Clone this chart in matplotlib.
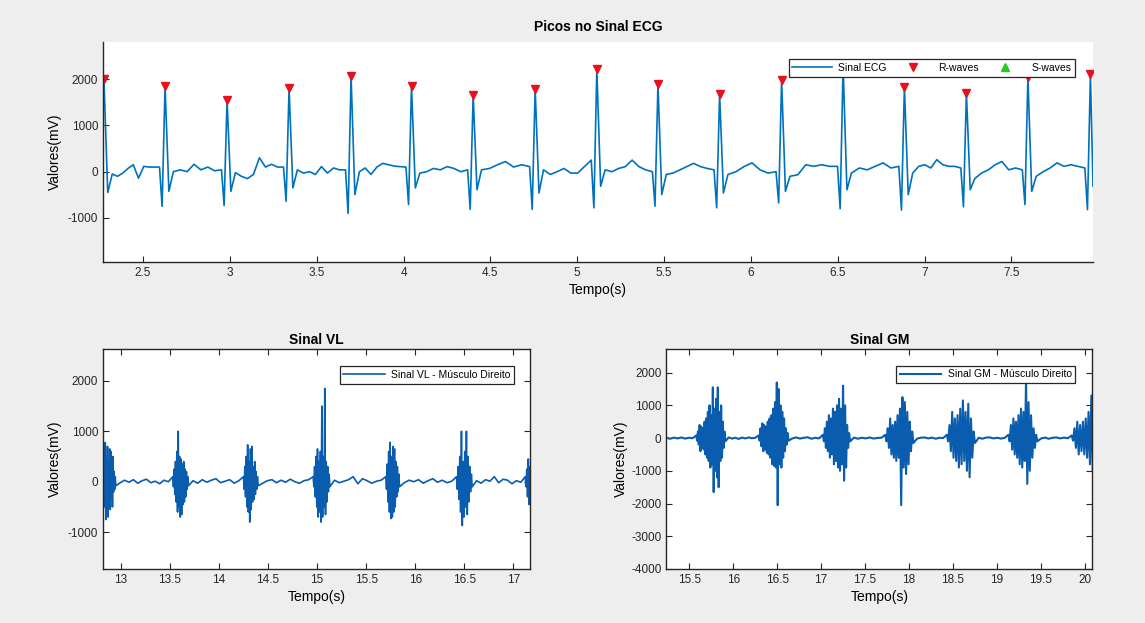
import numpy as np
import matplotlib
matplotlib.use('Agg')
import matplotlib.pyplot as plt
from matplotlib.ticker import FuncFormatter

plt.rcParams['font.family'] = ['Liberation Sans', 'DejaVu Sans']

# ---------------- ECG data ----------------
r_times = [2.275, 2.627, 2.984, 3.341, 3.698, 4.046, 4.401, 4.758, 5.113,
           5.465, 5.820, 6.177, 6.531, 6.884, 7.241, 7.595, 7.955]
r_vals = [2000, 1850, 1550, 1805, 2065, 1850, 1660, 1785, 2215,
          1890, 1680, 1980, 2300, 1830, 1700, 2045, 2110]
q_vals = [None, -750, -730, -640, -900, -710, -815, -815, -780,
          -745, -780, -675, -800, -830, -760, -710, -820]
s_vals = [-450, -425, -425, -350, -495, -350, -390, -460, -315,
          -495, -460, -425, -390, -495, -390, -425, -315]
ecg_baselines = [
    [-50, -100, -30, 70, 150, -140, 115, 100, 100, 100],
    [0, 40, 0, 160, 40, 100, 20, 40],
    [-20, -100, -150, -60, 300, 100, 160, 100, 100],
    [40, -30, 0, -60, 110, -30, 80, 40, 40],
    [0, 80, -60, 100, 180, 150, 120, 110, 100],
    [-30, 0, 70, 40, 110, 70, 0, 40],
    [40, 70, 150, 220, 100, 150, 110],
    [40, -60, 0, 70, -30, -30, 110, 250],
    [40, 0, 70, 110, 250, 110, 40, 0],
    [-60, -30, 40, 110, 180, 110, 70, 40],
    [-60, 0, 110, 190, 40, -30, 0],
    [-100, -65, 150, 115, 150, 115, 115],
    [-30, 80, 40, 115, 190, 80, 115],
    [-30, 115, 150, 80, 260, 150, 115, 115, 80],
    [-150, -30, 40, 150, 220, 40, 80, 40],
    [-100, 0, 80, 190, 115, 150, 115, 80],
]
ecg_end_val = -315
s_wave_times = []
s_wave_vals = []

# ---------------- VL data ----------------
vl_burst_span = [(12.82, 12.95), (13.53, 13.69), (14.25, 14.40), (14.96, 15.13),
                 (15.70, 15.84), (16.42, 16.58), (17.12, 17.175)]
vl_upper = [
    [300, 600, 780, 500, 700, 400, 650, 600, 300, 500, 200, 100],
    [100, 250, 400, 600, 1000, 500, 450, 350, 400, 250, 200, 100],
    [100, 300, 500, 730, 400, 650, 700, 300, 400, 200, 100],
    [100, 300, 500, 650, 400, 600, 1500, 500, 1850, 400, 300, 150],
    [100, 350, 600, 780, 500, 700, 650, 400, 300, 150],
    [100, 300, 500, 1000, 400, 600, 1000, 500, 300, 150],
    [100, 250, 450, 300],
]
vl_lower = [
    [-300, -500, -750, -600, -700, -400, -550, -300, -500, -200, -150, -80],
    [-100, -250, -400, -600, -500, -700, -650, -450, -400, -300, -150, -80],
    [-150, -300, -500, -600, -800, -550, -400, -350, -250, -150, -80],
    [-100, -300, -500, -700, -600, -800, -700, -500, -650, -400, -200, -100],
    [-150, -400, -600, -730, -700, -600, -500, -300, -200, -100],
    [-150, -350, -600, -870, -700, -500, -650, -400, -200, -100],
    [-100, -300, -450, -350],
]
vl_gaps = [
    [-20, 30, -10, 40, -30, 20, 50, -20, 10, -40, 30, 0],
    [20, -30, 40, -10, 30, 60, -20, 10, 40, -30, 20],
    [-30, 20, 40, -20, 30, -10, 50, 0, -30, 20, 40],
    [30, -20, 10, 40, 100, -40, 60, 20, -30, 10, 30],
    [-20, 30, 0, 40, -30, 20, 60, -10, 30, -20, 10],
    [20, -30, 40, 10, 100, -20, 50, 30, -40, 20, -10],
]

# ---------------- GM data ----------------
gm_start_gap = [10, -20, 15, -10, 20, -15, 10, -5]
gm_start_t = 15.24
gm_burst_span = [(15.58, 15.91), (16.29, 16.63), (17.02, 17.33), (17.73, 18.05),
                 (18.43, 18.75), (19.13, 19.46), (19.85, 20.09)]
gm_upper = [
    [80, 200, 400, 350, 300, 500, 600, 800, 1000, 700, 1550, 900, 1200, 1550, 800, 1000, 500, 200],
    [80, 300, 450, 400, 350, 500, 600, 700, 900, 1100, 1700, 1500, 1000, 800, 600, 300, 150],
    [100, 300, 500, 700, 600, 900, 800, 1000, 1200, 900, 1600, 1000, 400, 150],
    [100, 300, 600, 400, 500, 700, 900, 1250, 1100, 800, 500, 200],
    [100, 400, 800, 600, 700, 900, 1150, 800, 1050, 600, 200],
    [100, 400, 600, 500, 700, 900, 800, 1750, 1100, 700, 300, 100],
    [80, 300, 500, 400, 500, 600, 800, 1300],
]
gm_lower = [
    [-80, -200, -400, -300, -350, -500, -600, -700, -900, -800, -1650, -1000, -1200, -1500, -700, -600, -300, -100],
    [-80, -250, -400, -350, -450, -500, -600, -800, -850, -900, -2050, -800, -900, -600, -400, -200, -80],
    [-100, -300, -400, -600, -500, -800, -700, -900, -1000, -800, -1300, -900, -300, -100],
    [-100, -300, -500, -600, -700, -600, -2050, -900, -1100, -800, -400, -150],
    [-100, -400, -600, -700, -900, -800, -700, -1000, -1200, -600, -150],
    [-100, -350, -500, -600, -800, -900, -700, -1400, -1000, -600, -300, -100],
    [-80, -300, -500, -400, -500, -600, -800, -1000],
]
gm_gaps = [
    [20, -15, 10, -25, 15, -10, 20, -5, 10],
    [-10, 20, -15, 10, 25, -20, 10, -10],
    [15, -20, 10, -10, 20, -15, 5, 10],
    [-15, 10, 20, -10, 15, -20, 10, 0],
    [10, -20, 15, 20, -10, 10, -15, 5],
    [-10, 15, -20, 10, 20, -10, 15, -5],
]

BLUE = '#0072BD'
EMG_BLUE = '#0a5cae'
BG = '#eeeeee'
DARK = '#262626'


def build_ecg():
    t, v = [], []
    n = len(r_times)
    for i in range(n):
        rt = r_times[i]
        if q_vals[i] is not None:
            t.append(rt - 0.017); v.append(q_vals[i])
        t.append(rt); v.append(r_vals[i])
        t.append(rt + 0.022); v.append(s_vals[i])
        if i < n - 1:
            base = ecg_baselines[i]
            tt = np.linspace(rt + 0.048, r_times[i + 1] - 0.032, len(base))
            t.extend(tt); v.extend(base)
    t[-1] = 7.97
    v[-1] = ecg_end_val
    return np.array(t), np.array(v)


def build_emg(spans, uppers, lowers, gaps, start=None):
    t, v = [], []
    if start is not None:
        g0, t0 = start
        tt = np.linspace(t0, spans[0][0], len(g0) + 1)[:-1]
        t.extend(tt); v.extend(g0)
    for k, (a, b) in enumerate(spans):
        up, lo = uppers[k], lowers[k]
        vals = []
        for u, l in zip(up, lo):
            vals.extend([u, l])
        tt = np.linspace(a, b, len(vals))
        t.extend(tt); v.extend(vals)
        if k < len(gaps):
            g = gaps[k]
            tt = np.linspace(b, spans[k + 1][0], len(g) + 2)[1:-1]
            t.extend(tt); v.extend(g)
    return np.array(t), np.array(v)


fmt = FuncFormatter(lambda x, p: f'{x:g}')

fig = plt.figure(figsize=(11.45, 6.23), dpi=100, facecolor=BG)

# ---------------- Top ECG axes ----------------
ax1 = fig.add_axes([0.090, 0.5795, 0.8646, 0.353])
et, ev = build_ecg()
ax1.plot(et, ev, color=BLUE, lw=1.2, label='Sinal ECG')
ax1.plot(r_times, r_vals, linestyle='none', marker='v', color='#e8101c',
         markersize=6, label='R-waves')
ax1.plot(s_wave_times, s_wave_vals, linestyle='none', marker='^', color='#22cc22',
         markersize=6, label='S-waves')
ax1.set_xlim(2.27, 7.97)
ax1.set_ylim(-1950, 2800)
ax1.set_xticks(np.arange(2.5, 7.51, 0.5))
ax1.set_yticks([-1000, 0, 1000, 2000])
ax1.spines['top'].set_visible(False)
ax1.spines['right'].set_visible(False)
ax1.set_title('Picos no Sinal ECG', fontsize=10, fontweight='bold', pad=8)
ax1.set_xlabel('Tempo(s)', fontsize=10, labelpad=3)
ax1.set_ylabel('Valores(mV)', fontsize=10, labelpad=4)
ax1.legend(loc='upper right', bbox_to_anchor=(0.987, 0.945), ncol=3,
           fontsize=7.5, frameon=True, fancybox=False, handlelength=3.8,
           columnspacing=0.6, borderpad=0.35, handletextpad=0.6)

# ---------------- VL axes ----------------
ax2 = fig.add_axes([0.090, 0.0867, 0.373, 0.353])
vt, vv = build_emg(vl_burst_span, vl_upper, vl_lower, vl_gaps)
ax2.plot(vt, vv, color=EMG_BLUE, lw=1.2, label='Sinal VL - Músculo Direito')
ax2.set_xlim(12.82, 17.17)
ax2.set_ylim(-1730, 2630)
ax2.set_xticks(np.arange(13, 17.01, 0.5))
ax2.set_yticks([-1000, 0, 1000, 2000])
ax2.set_title('Sinal VL', fontsize=10, fontweight='bold', pad=4)
ax2.set_xlabel('Tempo(s)', fontsize=10, labelpad=3)
ax2.set_ylabel('Valores(mV)', fontsize=10, labelpad=4)
ax2.legend(loc='upper right', bbox_to_anchor=(0.975, 0.945), fontsize=7.5,
           frameon=True, fancybox=False, handlelength=4, borderpad=0.35,
           handletextpad=0.6)

# ---------------- GM axes ----------------
ax3 = fig.add_axes([0.582, 0.0867, 0.372, 0.353])
gt, gv = build_emg(gm_burst_span, gm_upper, gm_lower, gm_gaps,
                   start=(gm_start_gap, gm_start_t))
ax3.plot(gt, gv, color=EMG_BLUE, lw=1.5, label='Sinal GM - Músculo Direito')
ax3.set_xlim(15.24, 20.085)
ax3.set_ylim(-4000, 2720)
ax3.set_xticks(np.arange(15.5, 20.01, 0.5))
ax3.set_yticks(np.arange(-4000, 2001, 1000))
ax3.set_title('Sinal GM', fontsize=10, fontweight='bold', pad=4)
ax3.set_xlabel('Tempo(s)', fontsize=10, labelpad=3)
ax3.set_ylabel('Valores(mV)', fontsize=10, labelpad=2)
ax3.legend(loc='upper right', bbox_to_anchor=(0.972, 0.948), fontsize=7.5,
           frameon=True, fancybox=False, handlelength=4, borderpad=0.35,
           handletextpad=0.6)

for ax in (ax1, ax2, ax3):
    ax.set_facecolor('white')
    ax.xaxis.set_major_formatter(fmt)
    ax.yaxis.set_major_formatter(fmt)
    for s in ax.spines.values():
        s.set_color(DARK)
        s.set_linewidth(1.0)
    leg = ax.get_legend()
    leg.get_frame().set_edgecolor(DARK)
    leg.get_frame().set_linewidth(0.9)
    leg.get_frame().set_alpha(1)

ax1.tick_params(direction='in', length=4, width=0.8, labelsize=8.5, colors=DARK,
                top=False, right=False)
for ax in (ax2, ax3):
    ax.tick_params(direction='in', length=4, width=0.8, labelsize=8.5, colors=DARK,
                   top=True, right=True)

fig.savefig('out.png', dpi=100, facecolor=BG)
